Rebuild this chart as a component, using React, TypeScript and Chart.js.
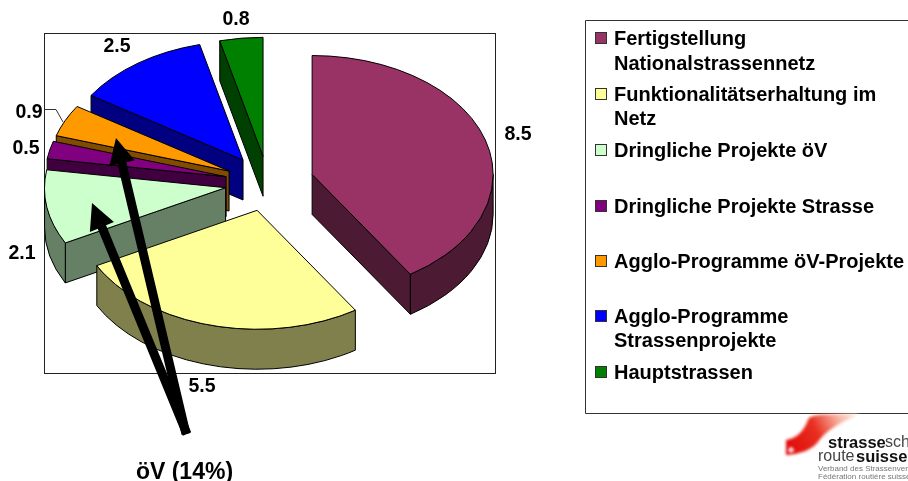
import React, { useEffect, useRef } from "react";
import { Chart, registerables } from "chart.js";

Chart.register(...registerables);

const categories = [
  "Fertigstellung Nationalstrassennetz",
  "Funktionalitätserhaltung im Netz",
  "Dringliche Projekte öV",
  "Dringliche Projekte Strasse",
  "Agglo-Programme öV-Projekte",
  "Agglo-Programme Strassenprojekte",
  "Hauptstrassen",
];
const values = [8.5, 5.5, 2.1, 0.5, 0.9, 2.5, 0.8];
const valueLabels = ["8.5", "5.5", "2.1", "0.5", "0.9", "2.5", "0.8"];
const topColors = ["#993366", "#ffff99", "#ccffcc", "#800080", "#ff9900", "#0000ff", "#008000"];
const wallColors = ["#4d1a33", "#80804d", "#668066", "#400040", "#804d00", "#000080", "#004000"];
const legendLines = [
  ["Fertigstellung", "Nationalstrassennetz"],
  ["Funktionalitätserhaltung im", "Netz"],
  ["Dringliche Projekte öV"],
  ["Dringliche Projekte Strasse"],
  ["Agglo-Programme öV-Projekte"],
  ["Agglo-Programme", "Strassenprojekte"],
  ["Hauptstrassen"],
];

const PIE_RADIUS = 181;
const SQUASH = 0.657;
const DEPTH = 40;
const OFFSETS = [46, 43, 43, 43, 43, 43, 41];
const FONT = "Liberation Sans, Arial, sans-serif";

const labelPositions = [
  [518, 135], [202, 387], [22, 254], [26, 149], [29, 113], [117, 47], [236, 20],
];
const legendRows = [[38, 63], [94, 118], [150], [206], [261], [316, 340], [372]];

function arrow(ctx: CanvasRenderingContext2D, tx: number, ty: number, hx: number, hy: number, w: number, hw: number, hl: number) {
  const a = Math.atan2(hy - ty, hx - tx);
  const nx = -Math.sin(a), ny = Math.cos(a), ux = Math.cos(a), uy = Math.sin(a);
  const bx = hx - ux * hl, by = hy - uy * hl;
  ctx.beginPath();
  ctx.moveTo(tx + (nx * w) / 2, ty + (ny * w) / 2);
  ctx.lineTo(bx + (nx * w) / 2, by + (ny * w) / 2);
  ctx.lineTo(bx + (nx * hw) / 2, by + (ny * hw) / 2);
  ctx.lineTo(hx, hy);
  ctx.lineTo(bx - (nx * hw) / 2, by - (ny * hw) / 2);
  ctx.lineTo(bx - (nx * w) / 2, by - (ny * w) / 2);
  ctx.lineTo(tx - (nx * w) / 2, ty - (ny * w) / 2);
  ctx.closePath();
  ctx.fillStyle = "#000";
  ctx.fill();
}

const pie3d = {
  id: "pie3d",
  beforeDatasetDraw(chart: any) {
    const ctx: CanvasRenderingContext2D = chart.ctx;
    const arcs = chart.getDatasetMeta(0).data;
    ctx.save();
    ctx.strokeStyle = "#222";
    ctx.lineWidth = 1;
    ctx.strokeRect(44.5, 33.5, 451, 340);
    ctx.strokeStyle = "#000";
    ctx.lineJoin = "round";
    const sy = SQUASH;
    // back to front: last slices are the furthest away
    for (let k = arcs.length - 1; k >= 0; k--) {
      const arc = arcs[k];
      const a = arc.startAngle, b = arc.endAngle;
      const mid = (a + b) / 2;
      const cx = arc.x + Math.cos(mid) * OFFSETS[k];
      const cy = arc.y + Math.sin(mid) * OFFSETS[k] * sy;
      const R = arc.outerRadius;
      const pt = (t: number) => [cx + R * Math.cos(t), cy + R * sy * Math.sin(t)];
      ctx.fillStyle = wallColors[k];
      const quad = (t: number) => {
        const p = pt(t);
        ctx.beginPath();
        ctx.moveTo(cx, cy);
        ctx.lineTo(p[0], p[1]);
        ctx.lineTo(p[0], p[1] + DEPTH);
        ctx.lineTo(cx, cy + DEPTH);
        ctx.closePath();
        ctx.fill();
        ctx.stroke();
      };
      // radial walls that face the viewer
      if (Math.cos(a) < -1e-6) quad(a);
      if (Math.cos(b) > 1e-6) quad(b);
      // outer rim, only where it faces the viewer
      const t1 = Math.max(a, 0), t2 = Math.min(b, Math.PI);
      if (t2 > t1) {
        const p2 = pt(t2);
        ctx.beginPath();
        ctx.ellipse(cx, cy, R, R * sy, 0, t1, t2);
        ctx.lineTo(p2[0], p2[1] + DEPTH);
        ctx.ellipse(cx, cy + DEPTH, R, R * sy, 0, t2, t1, true);
        ctx.closePath();
        ctx.fill();
        ctx.stroke();
      }
      // top
      ctx.fillStyle = topColors[k];
      ctx.beginPath();
      ctx.moveTo(cx, cy);
      ctx.ellipse(cx, cy, R, R * sy, 0, a, b);
      ctx.closePath();
      ctx.fill();
      ctx.stroke();
    }
    ctx.restore();
    return false;
  },
  afterDatasetsDraw(chart: any) {
    const ctx: CanvasRenderingContext2D = chart.ctx;
    ctx.save();
    // leader line of the 0.9 label
    ctx.strokeStyle = "#333";
    ctx.lineWidth = 1;
    ctx.beginPath();
    ctx.moveTo(45, 109.5);
    ctx.lineTo(56, 109.5);
    ctx.lineTo(63, 122);
    ctx.stroke();
    // value labels
    ctx.fillStyle = "#000";
    ctx.font = `bold 19.5px ${FONT}`;
    ctx.textAlign = "center";
    ctx.textBaseline = "middle";
    valueLabels.forEach((t, i) => ctx.fillText(t, labelPositions[i][0], labelPositions[i][1]));
    // arrows
    arrow(ctx, 186, 434, 116, 138, 9, 26, 26);
    arrow(ctx, 187, 434, 92, 203, 9, 26, 26);
    ctx.fillStyle = "#000";
    ctx.font = `bold 23px ${FONT}`;
    ctx.textAlign = "center";
    ctx.fillText("öV (14%)", 184.5, 473);
    // legend
    ctx.strokeStyle = "#333";
    ctx.lineWidth = 1;
    ctx.beginPath();
    ctx.moveTo(908, 20.5);
    ctx.lineTo(585.5, 20.5);
    ctx.lineTo(585.5, 413.5);
    ctx.lineTo(908, 413.5);
    ctx.stroke();
    ctx.font = `bold 20px ${FONT}`;
    ctx.textAlign = "left";
    legendLines.forEach((lines, i) => {
      const ys = legendRows[i];
      ctx.fillStyle = topColors[i];
      ctx.fillRect(595.5, ys[0] - 5.5, 11, 11);
      ctx.strokeStyle = "#333";
      ctx.strokeRect(595.5, ys[0] - 5.5, 11, 11);
      ctx.fillStyle = "#000";
      lines.forEach((l, j) => ctx.fillText(l, 614, ys[j] + 1));
    });
    // logo
    ctx.filter = "blur(1.5px)";
    const g = ctx.createLinearGradient(787, 452, 858, 414);
    g.addColorStop(0, "#e00808");
    g.addColorStop(0.45, "#e83020");
    g.addColorStop(0.75, "#f8b0a0");
    g.addColorStop(1, "#fff4f0");
    ctx.fillStyle = g;
    ctx.beginPath();
    ctx.moveTo(786, 440);
    ctx.bezierCurveTo(798, 438, 804, 430, 808, 420);
    ctx.bezierCurveTo(810, 415, 815, 414, 860, 414);
    ctx.bezierCurveTo(835, 425, 825, 432, 818, 442);
    ctx.bezierCurveTo(812, 450, 800, 454, 786, 455);
    ctx.closePath();
    ctx.fill();
    ctx.fillStyle = "#fff";
    ctx.fillRect(788, 449, 6, 2);
    ctx.fillRect(790, 447, 2, 6);
    ctx.filter = "blur(0.6px)";
    ctx.fillStyle = "#111";
    ctx.font = `bold 16.5px ${FONT}`;
    ctx.fillText("strasse", 828, 443);
    ctx.font = `16px ${FONT}`;
    ctx.fillStyle = "#444";
    ctx.fillText("sch", 885, 443);
    ctx.fillText("route", 818, 457);
    ctx.fillStyle = "#111";
    ctx.font = `bold 16.5px ${FONT}`;
    ctx.fillText("suisse", 856, 457);
    ctx.fillStyle = "#777";
    ctx.font = `8px ${FONT}`;
    ctx.fillText("Verband des Strassenverkehrs", 818, 469);
    ctx.fillText("Fédération routière suisse", 818, 477);
    ctx.restore();
  },
};

export default function App() {
  const ref = useRef<HTMLCanvasElement>(null);
  useEffect(() => {
    const chart = new Chart(ref.current!, {
      type: "pie",
      data: {
        labels: categories,
        datasets: [{ data: values, backgroundColor: topColors, borderWidth: 0 }],
      },
      options: {
        animation: false,
        responsive: false,
        radius: PIE_RADIUS,
        layout: { autoPadding: false, padding: { left: 0, top: 0, right: 372, bottom: 115 } },
        plugins: { legend: { display: false }, tooltip: { enabled: false } },
      } as any,
      plugins: [pie3d as any],
    });
    return () => chart.destroy();
  }, []);
  return (
    <div style={{ position: "absolute", left: 0, top: 0, width: 908, height: 481, background: "#fff" }}>
      <canvas ref={ref} width={908} height={481} style={{ display: "block" }} />
    </div>
  );
}
